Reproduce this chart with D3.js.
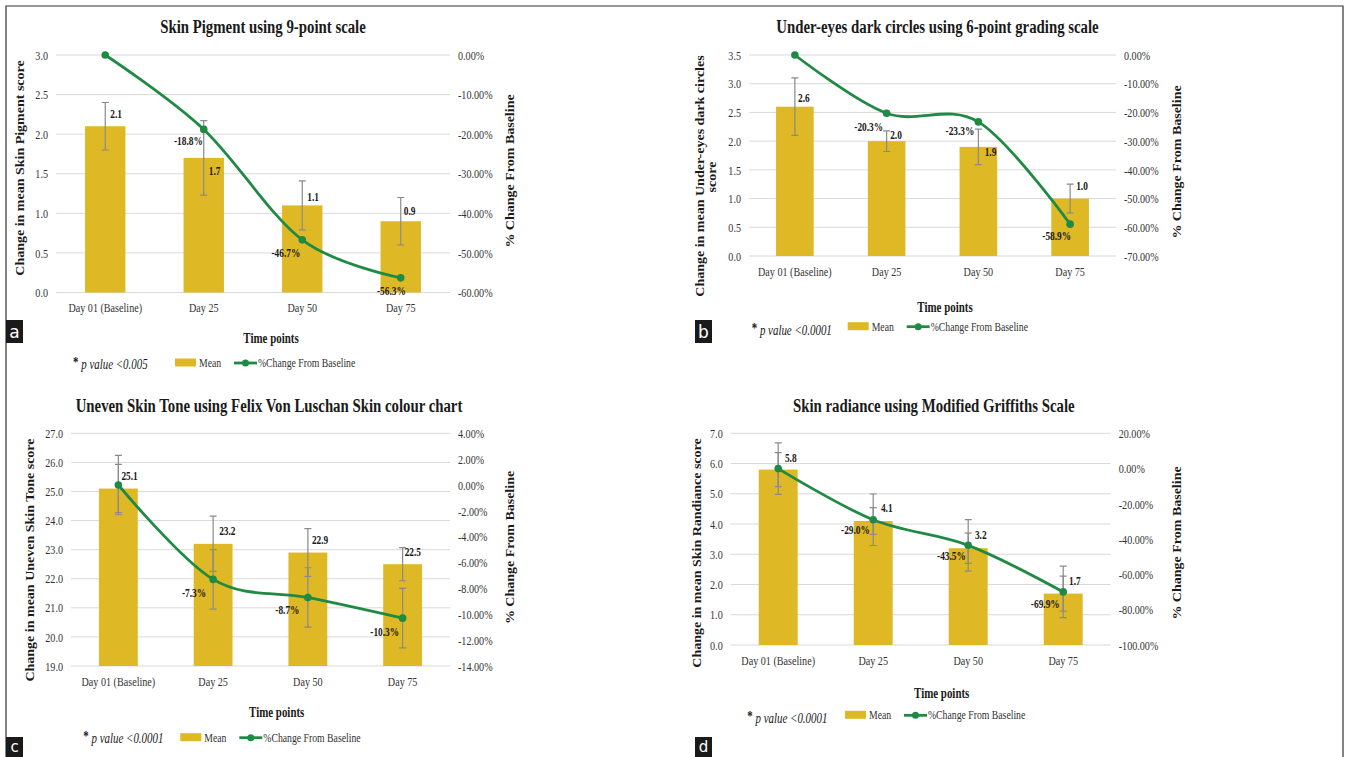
<!DOCTYPE html>
<html>
<head>
<meta charset="utf-8">
<style>
  html, body { margin: 0; padding: 0; background: #fff; }
  svg { display: block; font-family: "Liberation Serif", "Times New Roman", serif; }
</style>
</head>
<body>
<div id="chart"></div>
<script src="https://cdn.jsdelivr.net/npm/d3@7"></script>
<script>
var width = 1346, height = 757;

var days = ["Day 01 (Baseline)", "Day 25", "Day 50", "Day 75"];

// a - skin pigment, 9-point scale
var pigmentMean = [2.1, 1.7, 1.1, 0.9];
var pigmentErr = [0.3, 0.47, 0.31, 0.3];
var pigmentPct = [0, -18.8, -46.7, -56.3];
var pigmentTicks = [0, 0.5, 1, 1.5, 2, 2.5, 3];
var pigmentPctTicks = [-60, -50, -40, -30, -20, -10, 0];

// b - under-eyes dark circles, 6-point scale
var circlesMean = [2.6, 2.0, 1.9, 1.0];
var circlesErr = [0.5, 0.18, 0.31, 0.25];
var circlesPct = [0, -20.3, -23.3, -58.9];
var circlesTicks = [0, 0.5, 1, 1.5, 2, 2.5, 3, 3.5];
var circlesPctTicks = [-70, -60, -50, -40, -30, -20, -10, 0];

// c - uneven skin tone, Felix Von Luschan
var toneMean = [25.1, 23.2, 22.9, 22.5];
var toneErr = [0.83, 0.95, 0.82, 0.57];
var tonePct = [0, -7.3, -8.7, -10.3];
var tonePctErr = [2.3, 2.3, 2.3, 2.3];
var toneTicks = [19, 20, 21, 22, 23, 24, 25, 26, 27];
var tonePctTicks = [-14, -12, -10, -8, -6, -4, -2, 0, 2, 4];

// d - skin radiance, modified Griffiths
var radianceMean = [5.8, 4.1, 3.2, 1.7];
var radianceErr = [0.56, 0.44, 0.5, 0.58];
var radiancePct = [0, -29.0, -43.5, -69.9];
var radiancePctErr = [14.6, 14.6, 14.6, 14.6];
var radianceTicks = [0, 1, 2, 3, 4, 5, 6, 7];
var radiancePctTicks = [-100, -80, -60, -40, -20, 0, 20];

var gold = "#dfb826";
var green = "#1f8a43";
var errGrey = "#8a8a8a";
var SX = 0.78; // the source picture is squeezed sideways

var panels = [
  {letter: "a", title: "Skin Pigment using 9-point scale",
   yTitle: ["Change in mean Skin Pigment score"], pval: "p value <0.005",
   mean: pigmentMean, err: pigmentErr, pct: pigmentPct, pctErr: null,
   ticks: pigmentTicks, pctTicks: pigmentPctTicks,
   x0: 56, x1: 450, y0: 55, y1: 292.5,
   titlePos: [263, 33], timePos: [271, 343],
   yTitlePos: [[24, 168]], rTitlePos: [514, 171],
   legend: {px: 73, py: 369, rx: 175, my: 367}, box: [6, 320, 23],
   meanOff: [[5, -8.6], [5, 17], [5, -4], [3, -6]],
   pctOff: [null, [-1, 16], [-2, 17], [5, 17]]},
  {letter: "b", title: "Under-eyes dark circles using 6-point grading scale",
   yTitle: ["Change in mean Under-eyes dark circles", "score"], pval: "p value <0.0001",
   mean: circlesMean, err: circlesErr, pct: circlesPct, pctErr: null,
   ticks: circlesTicks, pctTicks: circlesPctTicks,
   x0: 749, x1: 1116, y0: 55, y1: 256,
   titlePos: [937.5, 33], timePos: [945, 311.7],
   yTitlePos: [[704, 176], [716, 177]], rTitlePos: [1181, 162],
   legend: {px: 751.7, py: 335, rx: 847.7, my: 330.7}, box: [695, 320, 23],
   meanOff: [[3.2, -5], [3.5, -2], [6.3, 9], [6, -8.6]],
   pctOff: [null, [-3.5, 18], [-4, 13], [1, 16]]},
  {letter: "c", title: "Uneven Skin Tone using Felix Von Luschan Skin colour chart",
   yTitle: ["Change in mean Uneven Skin Tone score"], pval: "p value <0.0001",
   mean: toneMean, err: toneErr, pct: tonePct, pctErr: tonePctErr,
   ticks: toneTicks, pctTicks: tonePctTicks,
   x0: 71, x1: 450, y0: 433.3, y1: 666,
   titlePos: [269, 411.7], timePos: [276.7, 716.7],
   yTitlePos: [[34, 560]], rTitlePos: [514, 547.5],
   legend: {px: 83.3, py: 743.3, rx: 180.3, my: 741.7}, box: [6, 737, 20],
   meanOff: [[3, -8.6], [6, -9], [4, -8.6], [2, -8.5]],
   pctOff: [null, [-7, 18], [-8.4, 17], [-3.5, 18]]},
  {letter: "d", title: "Skin radiance using Modified Griffiths Scale",
   yTitle: ["Change in mean Skin Randiance score"], pval: "p value <0.0001",
   mean: radianceMean, err: radianceErr, pct: radiancePct, pctErr: radiancePctErr,
   ticks: radianceTicks, pctTicks: radiancePctTicks,
   x0: 730.7, x1: 1110.7, y0: 433.3, y1: 645,
   titlePos: [933.8, 411.7], timePos: [941.7, 698.3],
   yTitlePos: [[701, 553]], rTitlePos: [1181, 543],
   legend: {px: 747.3, py: 723.3, rx: 845, my: 719.3}, box: [695, 737, 20],
   meanOff: [[6.7, -8], [7.7, -8.7], [6.7, -9], [5.8, -9]],
   pctOff: [null, [-3.3, 14], [-2.3, 15], [-3.5, 16]]}
];

var svg = d3.select("#chart").append("svg")
  .attr("width", width).attr("height", height);

// outer frame
svg.append("path")
  .attr("d", "M6,757V6H1343V757")
  .attr("fill", "none").attr("stroke", "#333").attr("stroke-width", 1.2);

function say(g, x, y, s, o) {
  o = o || {};
  var tr = "translate(" + x + "," + y + ")" + (o.rot ? " rotate(-90) scale(1,0.85)" : " scale(" + SX + ",1)");
  return g.append("text")
    .attr("transform", tr)
    .attr("text-anchor", o.anchor || "start")
    .style("font-size", (o.size || 13) + "px")
    .style("font-weight", o.bold ? "bold" : "normal")
    .style("font-style", o.italic ? "italic" : "normal")
    .attr("fill", o.fill || "#1a1a1a")
    .text(s);
}

panels.forEach(function(p) {
  var g = svg.append("g");
  var lo = p.ticks[0], hi = p.ticks[p.ticks.length - 1];
  var plo = p.pctTicks[0], phi = p.pctTicks[p.pctTicks.length - 1];

  var x = d3.scaleBand().domain(days).range([p.x0, p.x1])
    .paddingInner(0.59).paddingOuter(0.295);
  var y = d3.scaleLinear().domain([lo, hi]).range([p.y1, p.y0]);
  var yR = d3.scaleLinear().domain([plo, phi]).range([p.y1, p.y0]);

  // gridlines
  g.append("g").selectAll("line").data(p.ticks).join("line")
    .attr("x1", p.x0).attr("x2", p.x1)
    .attr("y1", d => y(d)).attr("y2", d => y(d))
    .attr("stroke", "#d9d9d9").attr("stroke-width", 1);

  // left axis
  var la = g.append("g").attr("transform", "translate(" + p.x0 + ",0)")
    .call(d3.axisLeft(y).tickValues(p.ticks).tickSize(0).tickFormat(d3.format(".1f")));
  la.select(".domain").remove();
  la.selectAll("text").attr("x", -8 / SX).attr("transform", "scale(" + SX + ",1)")
    .style("font-size", "13px").style("font-family", "Liberation Serif").attr("fill", "#333");

  // right axis
  var ra = g.append("g").attr("transform", "translate(" + p.x1 + ",0)")
    .call(d3.axisRight(yR).tickValues(p.pctTicks).tickSize(0).tickFormat(d => d.toFixed(2) + "%"));
  ra.select(".domain").remove();
  ra.selectAll("text").attr("x", 8 / SX).attr("transform", "scale(" + SX + ",1)")
    .style("font-size", "13px").style("font-family", "Liberation Serif").attr("fill", "#333");

  // category axis
  var ba = g.append("g").attr("transform", "translate(0," + p.y1 + ")")
    .call(d3.axisBottom(x).tickSize(0));
  ba.select(".domain").remove();
  ba.selectAll("text").attr("y", 0).attr("dy", null)
    .attr("transform", "translate(0,19.5) scale(" + SX + ",1)")
    .style("font-size", "13px").style("font-family", "Liberation Serif").attr("fill", "#333");

  // bars
  g.append("g").selectAll("rect").data(p.mean).join("rect")
    .attr("x", (d, i) => x(days[i]))
    .attr("y", d => y(d))
    .attr("width", x.bandwidth())
    .attr("height", d => y(lo) - y(d))
    .attr("fill", gold);

  function errBars(vals, errs, sc) {
    var eg = g.append("g").attr("stroke", errGrey).attr("stroke-width", 1.2).attr("fill", "none");
    vals.forEach(function(v, i) {
      var cx = x(days[i]) + x.bandwidth() / 2;
      var t = sc(v + errs[i]), b = sc(v - errs[i]);
      eg.append("path")
        .attr("d", "M" + cx + "," + t + "V" + b +
                   "M" + (cx - 3.5) + "," + t + "H" + (cx + 3.5) +
                   "M" + (cx - 3.5) + "," + b + "H" + (cx + 3.5));
    });
  }
  errBars(p.mean, p.err, y);
  if (p.pctErr) errBars(p.pct, p.pctErr, yR);

  // % change line
  var pts = p.pct.map((v, i) => [x(days[i]) + x.bandwidth() / 2, yR(v)]);
  g.append("path")
    .attr("d", d3.line().curve(d3.curveCardinal.tension(0))(pts))
    .attr("fill", "none").attr("stroke", green).attr("stroke-width", 2.8);
  g.append("g").selectAll("circle").data(pts).join("circle")
    .attr("cx", d => d[0]).attr("cy", d => d[1]).attr("r", 3.8).attr("fill", green);

  // value labels
  p.mean.forEach(function(v, i) {
    var cx = x(days[i]) + x.bandwidth() / 2;
    say(g, cx + p.meanOff[i][0], y(v) + p.meanOff[i][1], v.toFixed(1), {size: 12, bold: true});
    if (p.pctOff[i]) {
      say(g, cx + p.pctOff[i][0], yR(p.pct[i]) + p.pctOff[i][1], p.pct[i].toFixed(1) + "%",
        {size: 12, bold: true, anchor: "end"});
    }
  });

  // titles
  say(g, p.titlePos[0], p.titlePos[1], p.title, {size: 19, bold: true, anchor: "middle"});
  say(g, p.timePos[0], p.timePos[1], "Time points", {size: 14, bold: true, anchor: "middle"});
  p.yTitle.forEach(function(s, k) {
    say(g, p.yTitlePos[k][0], p.yTitlePos[k][1], s, {size: 14, bold: true, anchor: "middle", rot: true});
  });
  say(g, p.rTitlePos[0], p.rTitlePos[1], "% Change From Baseline", {size: 14, bold: true, anchor: "middle", rot: true});

  // legend
  var L = p.legend;
  var pv = say(g, L.px, L.py, "", {size: 14});
  pv.append("tspan").style("font-weight", "bold").attr("dy", -2).text("*");
  pv.append("tspan").style("font-style", "italic").attr("dy", 2).text(" " + p.pval);
  g.append("rect").attr("x", L.rx).attr("y", L.my - 8.5).attr("width", 21).attr("height", 8).attr("fill", gold);
  say(g, L.rx + 24, L.my, "Mean", {size: 12.5, fill: "#333"});
  var lx = L.rx + 59;
  g.append("line").attr("x1", lx).attr("x2", lx + 23).attr("y1", L.my - 4).attr("y2", L.my - 4)
    .attr("stroke", green).attr("stroke-width", 2.8);
  g.append("circle").attr("cx", lx + 11.5).attr("cy", L.my - 4).attr("r", 3.5).attr("fill", green);
  say(g, lx + 24, L.my, "%Change From Baseline", {size: 12.5, fill: "#333"});

  // panel letter
  var bh = p.box[2];
  g.append("rect").attr("x", p.box[0]).attr("y", p.box[1]).attr("width", 17).attr("height", bh).attr("fill", "#1a1a1a");
  g.append("text").attr("x", p.box[0] + 8.5).attr("y", p.box[1] + bh - 5)
    .attr("text-anchor", "middle").attr("fill", "#fff")
    .style("font-family", "DejaVu Sans").style("font-size", (bh > 21 ? 17 : 15) + "px").text(p.letter);
});
</script>
</body>
</html>
